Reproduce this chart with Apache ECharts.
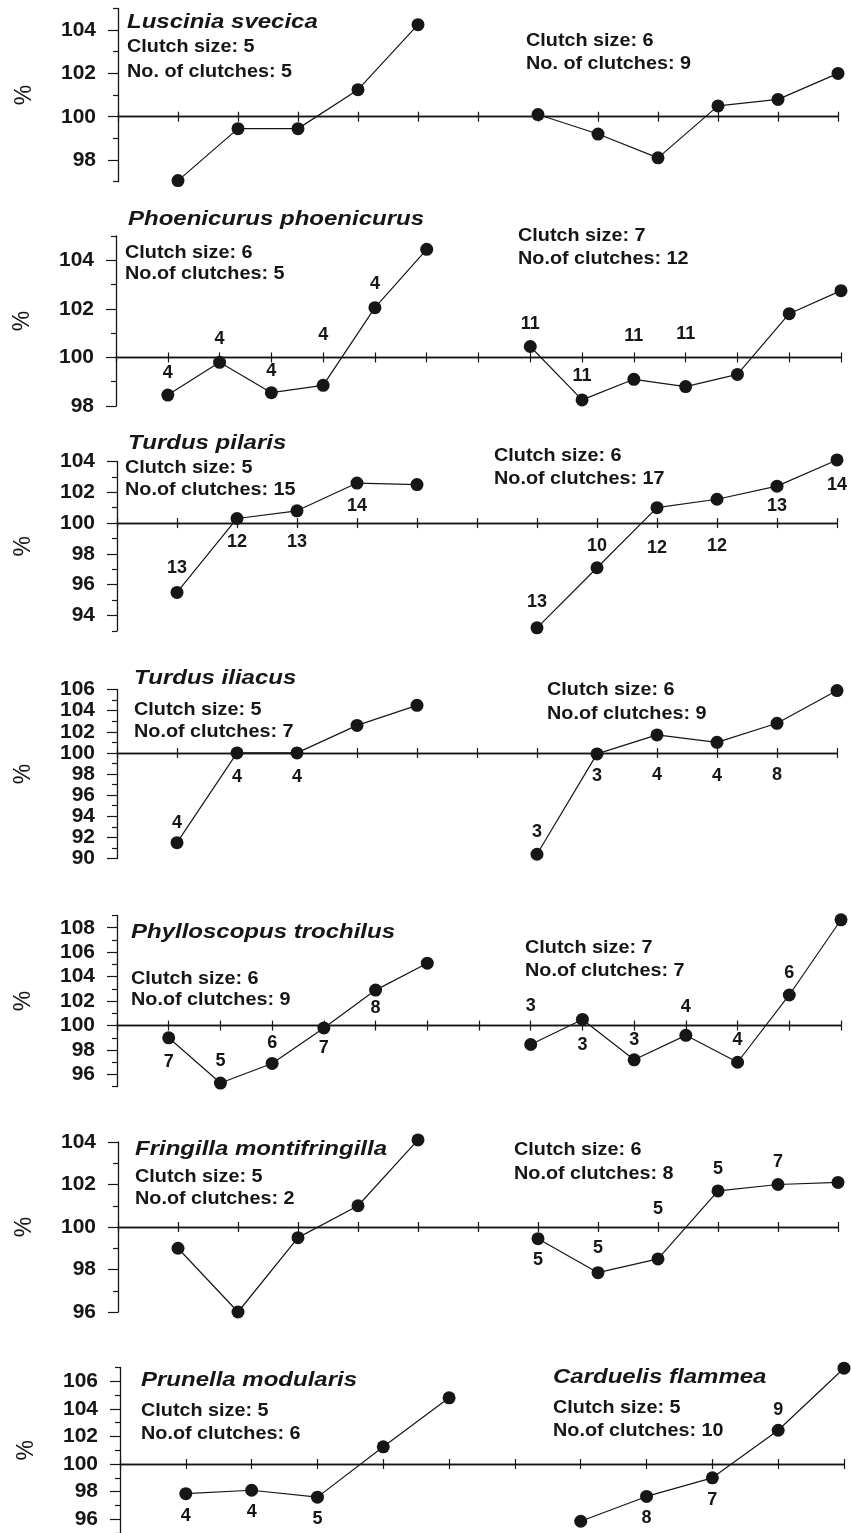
<!DOCTYPE html>
<html><head><meta charset="utf-8">
<script src="https://cdn.jsdelivr.net/npm/echarts@6/dist/echarts.min.js"></script>
<style>html,body{margin:0;padding:0;background:#fff}#c{width:851px;height:1533px}</style>
</head><body><div id="c"></div><script>
// ---- data ----
const luscLeft  = [97.05, 99.45, 99.45, 101.25, 104.25];
const luscRight = [100.1, 99.2, 98.1, 100.5, 100.8, 102.0];
const luscTicks = [98, 100, 102, 104];

const phoeLeft   = [98.45, 99.8, 98.55, 98.85, 102.05, 104.45];
const phoeLeftN  = ['4', '4', '4', '4', '4', null];
const phoeRight  = [100.45, 98.25, 99.1, 98.8, 99.3, 101.8, 102.75];
const phoeRightN = ['11', '11', '11', '11', null, null, null];
const phoeTicks  = [98, 100, 102, 104];

const pilaLeft   = [95.5, 100.3, 100.8, 102.6, 102.5];
const pilaLeftN  = ['13', '12', '13', '14', null];
const pilaRight  = [93.2, 97.1, 101.0, 101.55, 102.4, 104.1];
const pilaRightN = ['13', '10', '12', '12', '13', '14'];
const pilaTicks  = [94, 96, 98, 100, 102, 104];

const iliaLeft   = [91.5, 100.0, 100.0, 102.6, 104.5];
const iliaLeftN  = ['4', '4', '4', null, null];
const iliaRight  = [90.4, 99.9, 101.7, 101.0, 102.8, 105.9];
const iliaRightN = ['3', '3', '4', '4', '8', null];
const iliaTicks  = [90, 92, 94, 96, 98, 100, 102, 104, 106];

const trocLeft   = [99.0, 95.3, 96.9, 99.8, 102.9, 105.1];
const trocLeftN  = ['7', '5', '6', '7', '8', null];
const trocRight  = [98.45, 100.5, 97.2, 99.2, 97.0, 102.5, 108.65];
const trocRightN = ['3', '3', '3', '4', '4', '6', null];
const trocTicks  = [96, 98, 100, 102, 104, 106, 108];

const montLeft   = [99.0, 96.0, 99.5, 101.0, 104.1];
const montRight  = [99.45, 97.85, 98.5, 101.7, 102.0, 102.1];
const montRightN = ['5', '5', '5', '5', '7', null];
const montTicks  = [96, 98, 100, 102, 104];

const prunLeft   = [97.85, 98.1, 97.6, 101.25, 104.8];
const prunLeftN  = ['4', '4', '5', null, null];
const cardRight  = [95.85, 97.65, 99.0, 102.45, 106.95];
const cardRightN = [null, '8', '7', '9', null];
const prunTicks  = [96, 98, 100, 102, 104, 106];

// ---- panel definitions (texts + layout) ----
const FONT = '"Liberation Sans", Arial, Helvetica, sans-serif';
const panels = [
  { left: luscLeft, leftN: null, right: luscRight, rightN: null, ticks: luscTicks,
    yMin: 97, yMax: 105, xMax: 12, leftStart: 1, rightStart: 7,
    grid: { left: 118, top: 8.4, width: 720, height: 173.3 },
    leftDy: [], rightDy: [],
    texts: [
      { t: 'Luscinia svecica', x: 127, y: 22, title: true },
      { t: 'Clutch size: 5', x: 127, y: 47 },
      { t: 'No. of clutches: 5', x: 127, y: 72 },
      { t: 'Clutch size: 6', x: 526, y: 41 },
      { t: 'No. of clutches: 9', x: 526, y: 64 } ] },
  { left: phoeLeft, leftN: phoeLeftN, right: phoeRight, rightN: phoeRightN, ticks: phoeTicks,
    yMin: 98, yMax: 105, xMax: 14, leftStart: 1, rightStart: 8,
    grid: { left: 116, top: 236, width: 725, height: 170 },
    leftDy: [-22, -23, -22, -50, -24, 0], rightDy: [-22, -24, -43, -53, 0, 0, 0],
    texts: [
      { t: 'Phoenicurus phoenicurus', x: 128, y: 219, title: true },
      { t: 'Clutch size: 6', x: 125, y: 253 },
      { t: 'No.of clutches: 5', x: 125, y: 274 },
      { t: 'Clutch size: 7', x: 518, y: 236 },
      { t: 'No.of clutches: 12', x: 518, y: 259 } ] },
  { left: pilaLeft, leftN: pilaLeftN, right: pilaRight, rightN: pilaRightN, ticks: pilaTicks,
    yMin: 93, yMax: 104, xMax: 12, leftStart: 1, rightStart: 7,
    grid: { left: 117, top: 461.5, width: 720, height: 169.4 },
    leftDy: [-24, 24, 31, 23, 0], rightDy: [-26, -22, 40, 47, 20, 25],
    texts: [
      { t: 'Turdus pilaris', x: 128, y: 443, title: true },
      { t: 'Clutch size: 5', x: 125, y: 468 },
      { t: 'No.of clutches: 15', x: 125, y: 490 },
      { t: 'Clutch size: 6', x: 494, y: 456 },
      { t: 'No.of clutches: 17', x: 494, y: 479 } ] },
  { left: iliaLeft, leftN: iliaLeftN, right: iliaRight, rightN: iliaRightN, ticks: iliaTicks,
    yMin: 90, yMax: 106, xMax: 12, leftStart: 1, rightStart: 7,
    grid: { left: 117, top: 689.5, width: 720, height: 169 },
    leftDy: [-20, 24, 24, 0, 0], rightDy: [-22, 22, 40, 34, 52, 0],
    texts: [
      { t: 'Turdus iliacus', x: 134, y: 678, title: true },
      { t: 'Clutch size: 5', x: 134, y: 710 },
      { t: 'No.of clutches: 7', x: 134, y: 732 },
      { t: 'Clutch size: 6', x: 547, y: 690 },
      { t: 'No.of clutches: 9', x: 547, y: 714 } ] },
  { left: trocLeft, leftN: trocLeftN, right: trocRight, rightN: trocRightN, ticks: trocTicks,
    yMin: 95, yMax: 109, xMax: 14, leftStart: 1, rightStart: 8,
    grid: { left: 117, top: 915.5, width: 724, height: 171.2 },
    leftDy: [24, -22, -20, 20, 18, 0], rightDy: [-38, 26, -20, -28, -22, -22, 0],
    texts: [
      { t: 'Phylloscopus trochilus', x: 131, y: 932, title: true },
      { t: 'Clutch size: 6', x: 131, y: 979 },
      { t: 'No.of clutches: 9', x: 131, y: 1000 },
      { t: 'Clutch size: 7', x: 525, y: 948 },
      { t: 'No.of clutches: 7', x: 525, y: 971 } ] },
  { left: montLeft, leftN: null, right: montRight, rightN: montRightN, ticks: montTicks,
    yMin: 96, yMax: 104, xMax: 12, leftStart: 1, rightStart: 7,
    grid: { left: 118, top: 1142, width: 720, height: 170 },
    leftDy: [], rightDy: [21, -25, -50, -22, -22, 0],
    texts: [
      { t: 'Fringilla montifringilla', x: 135, y: 1149, title: true },
      { t: 'Clutch size: 5', x: 135, y: 1177 },
      { t: 'No.of clutches: 2', x: 135, y: 1199 },
      { t: 'Clutch size: 6', x: 514, y: 1150 },
      { t: 'No.of clutches: 8', x: 514, y: 1174 } ] },
  { left: prunLeft, leftN: prunLeftN, right: cardRight, rightN: cardRightN, ticks: prunTicks,
    yMin: 95, yMax: 107, xMax: 11, leftStart: 1, rightStart: 7,
    grid: { left: 120, top: 1367.5, width: 724, height: 170 },
    leftDy: [22, 22, 22, 0, 0], rightDy: [0, 22, 22, -20, 0],
    texts: [
      { t: 'Prunella modularis', x: 141, y: 1380, title: true },
      { t: 'Clutch size: 5', x: 141, y: 1411 },
      { t: 'No.of clutches: 6', x: 141, y: 1434 },
      { t: 'Carduelis flammea', x: 553, y: 1377, title: true },
      { t: 'Clutch size: 5', x: 553, y: 1408 },
      { t: 'No.of clutches: 10', x: 553, y: 1431 } ] }
];

const INK = '#161616';
const option = { backgroundColor: '#fff', animation: false,
  grid: [], xAxis: [], yAxis: [], series: [], graphic: [] };

panels.forEach((p, i) => {
  option.grid.push(Object.assign({ containLabel: false }, p.grid));
  const xA = option.xAxis.length, yA = option.yAxis.length, yZ = yA + 1;
  const oddTicks = [];
  for (let v = p.yMin; v <= p.yMax; v++) if (p.ticks.indexOf(v) < 0) oddTicks.push(v);
  // x axes lying on the 100 line (ticks crossing the line: one down, one up)
  ['bottom', 'top'].forEach(pos => {
    option.xAxis.push({ gridIndex: i, type: 'value', min: 0, max: p.xMax, interval: 1, position: pos,
      axisLine: { show: true, onZero: true, onZeroAxisIndex: yZ, lineStyle: { color: INK, width: 1.3 } },
      axisTick: { show: true, length: 5, lineStyle: { color: INK, width: 1.2 } },
      axisLabel: { show: false }, splitLine: { show: false } });
  });
  // labelled y axis
  option.yAxis.push({ gridIndex: i, type: 'value', min: p.yMin, max: p.yMax, position: 'left',
    axisLine: { show: true, onZero: false, lineStyle: { color: INK, width: 1.3 } },
    axisTick: { show: true, length: 10, customValues: p.ticks, lineStyle: { color: INK, width: 1.2 } },
    axisLabel: { show: true, customValues: p.ticks, margin: 22, color: INK, fontFamily: FONT,
      fontWeight: 'bold', fontSize: 21 },
    splitLine: { show: false },
    name: '%', nameLocation: 'middle', nameRotate: 90, nameGap: 82,
    nameTextStyle: { color: INK, fontFamily: FONT, fontSize: 23 } });
  // hidden axis whose zero is the 100 % level
  option.yAxis.push({ gridIndex: i, type: 'value', min: p.yMin - 100, max: p.yMax - 100,
    position: 'right', show: false });
  // short ticks at odd values
  option.yAxis.push({ gridIndex: i, type: 'value', min: p.yMin, max: p.yMax, position: 'left',
    axisLine: { show: false, onZero: false },
    axisTick: { show: true, length: 5, customValues: oddTicks, lineStyle: { color: INK, width: 1.2 } },
    axisLabel: { show: false }, splitLine: { show: false } });

  const mk = (vals, names, dys, start) => ({
    type: 'line', xAxisIndex: xA, yAxisIndex: yA, clip: false,
    data: vals.map((v, k) => ({ value: [start + k, v],
      label: { offset: [0, (dys && dys[k]) || 0] } })),
    symbol: 'circle', symbolSize: 13,
    itemStyle: { color: INK },
    lineStyle: { color: INK, width: 1.2 },
    label: { show: !!names, position: 'inside', color: INK, fontFamily: FONT,
      fontWeight: 'bold', fontSize: 18,
      formatter: prm => (names && names[prm.dataIndex]) || '' },
    emphasis: { disabled: true }, silent: true, z: 3 });
  option.series.push(mk(p.left, p.leftN, p.leftDy, p.leftStart));
  option.series.push(mk(p.right, p.rightN, p.rightDy, p.rightStart));

  p.texts.forEach(t => {
    option.graphic.push({ type: 'text', x: t.x, y: t.y, scaleX: t.title ? 1.2 : 1.1, silent: true,
      style: { text: t.t, fill: INK,
        font: (t.title ? 'italic bold 20px ' : 'bold 18px ') + FONT,
        textAlign: 'left', textVerticalAlign: 'middle', align: 'left', verticalAlign: 'middle' } });
  });
});

const chart = echarts.init(document.getElementById('c'), null, { renderer: 'canvas' });
chart.setOption(option);
</script></body></html>
